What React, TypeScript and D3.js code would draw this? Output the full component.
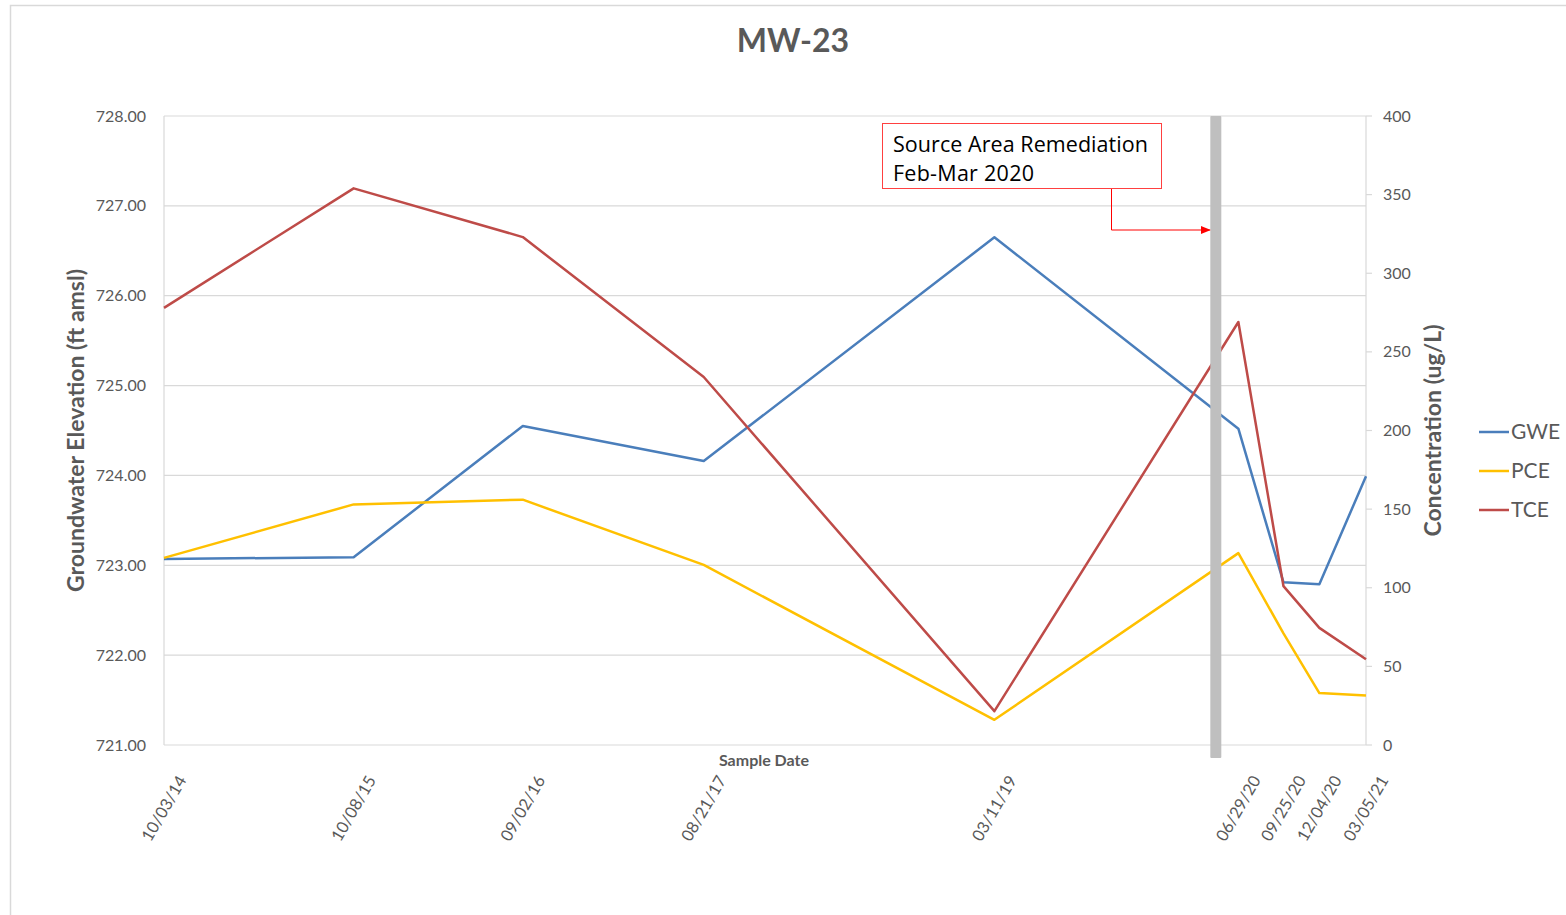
import React from 'react';
import * as d3 from 'd3';

// sample dates and readings
const sampleDates = ['2014-10-03', '2015-10-08', '2016-09-02', '2017-08-21', '2019-03-11', '2020-06-29', '2020-09-25', '2020-12-04', '2021-03-05'];
const dateLabels = ['10/03/14', '10/08/15', '09/02/16', '08/21/17', '03/11/19', '06/29/20', '09/25/20', '12/04/20', '03/05/21'];
const gweValues = [723.07, 723.09, 724.55, 724.16, 726.65, 724.52, 722.81, 722.79, 723.99];
const pceValues = [119, 153, 156, 114.5, 16, 122, 71, 33, 31.5];
const tceValues = [278, 354, 323, 234, 21.5, 269, 101, 74.5, 54.5];
const leftTicks = [721, 722, 723, 724, 725, 726, 727, 728];
const rightTicks = [0, 50, 100, 150, 200, 250, 300, 350, 400];
const remediationDate = '2020-05-16';

const W = 1566;
const H = 915;
const margin = { left: 164, right: 200, top: 116, bottom: 170 };
const FONT = 'Lato, "Open Sans", sans-serif';
const TXT = '#595959';
const GRID = '#D9D9D9';

const parse = d3.timeParse('%Y-%m-%d');
const dates = sampleDates.map(s => parse(s) as Date);

const series = [
  { name: 'GWE', color: '#4A7EBB', values: gweValues, axis: 'left' },
  { name: 'PCE', color: '#FFC000', values: pceValues, axis: 'right' },
  { name: 'TCE', color: '#BE4B48', values: tceValues, axis: 'right' },
];

export default function App() {
  const x0 = margin.left;
  const x1 = W - margin.right;
  const yTop = margin.top;
  const yBot = H - margin.bottom;

  const x = d3.scaleTime().domain([dates[0], dates[dates.length - 1]]).range([x0, x1]);
  const yL = d3.scaleLinear().domain([721, 728]).range([yBot, yTop]);
  const yR = d3.scaleLinear().domain([0, 400]).range([yBot, yTop]);

  const remX = x(parse(remediationDate) as Date);

  return (
    <svg width={W} height={H} style={{ position: 'absolute', left: 0, top: 0, background: '#fff' }} fontFamily={FONT}>
      <defs>
        <marker id="arrowHead" viewBox="0 0 10 10" refX="9" refY="5" markerWidth="10" markerHeight="10" orient="auto">
          <path d="M0,1 L10,5 L0,9 z" fill="#FF0000" />
        </marker>
      </defs>
      <rect x={10.5} y={5.5} width={W} height={H} fill="#fff" stroke={GRID} strokeWidth={1.5} />

      <text x={793} y={52} textAnchor="middle" fontSize={32} fontWeight="bold" fill={TXT}>MW-23</text>

      {/* gridlines */}
      {leftTicks.map(t => (
        <line key={t} x1={x0} x2={x1} y1={yL(t)} y2={yL(t)} stroke={GRID} strokeWidth={1.2} />
      ))}
      <line x1={x0} x2={x0} y1={yTop} y2={yBot} stroke={GRID} strokeWidth={1.2} />
      <line x1={x1} x2={x1} y1={yTop} y2={yBot} stroke={GRID} strokeWidth={1.2} />
      {rightTicks.map(t => (
        <line key={t} x1={x1} x2={x1 + 6} y1={yR(t)} y2={yR(t)} stroke={GRID} strokeWidth={1.2} />
      ))}

      {/* left tick labels */}
      {leftTicks.map(t => (
        <text key={t} x={146} y={yL(t)} dy="0.35em" textAnchor="end" fontSize={16} fill={TXT}>{t.toFixed(2)}</text>
      ))}
      {/* right tick labels */}
      {rightTicks.map(t => (
        <text key={t} x={1383} y={yR(t)} dy="0.35em" textAnchor="start" fontSize={16} fill={TXT}>{t}</text>
      ))}

      {/* x tick labels */}
      {dates.map((d, i) => (
        <text key={i} transform={`translate(${x(d) + 18},${yBot + 32}) rotate(-60)`} dy="0.35em" textAnchor="end" fontSize={16.5} fill={TXT}>
          {dateLabels[i]}
        </text>
      ))}

      <text x={764} y={766} textAnchor="middle" fontSize={16} fontWeight="bold" fill={TXT}>Sample Date</text>
      <text transform={`translate(84,${(yTop + yBot) / 2}) rotate(-90)`} textAnchor="middle" fontSize={23} fontWeight="bold" fill={TXT}>
        Groundwater Elevation (ft amsl)
      </text>
      <text transform={`translate(1441,${(yTop + yBot) / 2}) rotate(-90)`} textAnchor="middle" fontSize={23} fontWeight="bold" fill={TXT}>
        Concentration (ug/L)
      </text>

      {/* series */}
      {series.map(s => {
        const y = s.axis === 'left' ? yL : yR;
        const line = d3.line<number>().x((_, i) => x(dates[i])).y(v => y(v));
        return <path key={s.name} d={line(s.values) || ''} fill="none" stroke={s.color} strokeWidth={2.5} strokeLinejoin="round" />;
      })}

      {/* remediation marker */}
      <rect x={remX - 5.5} y={yTop} width={11} height={yBot - yTop + 13} fill="#BFBFBF" rx={1} />

      {/* annotation */}
      <rect x={882.5} y={123.5} width={279} height={65} fill="#fff" stroke="#FF0000" strokeOpacity={0.75} strokeWidth={1} />
      <text x={893} y={152} fontSize={21.5} fill="#000" fontFamily='"Open Sans", Lato, sans-serif' textLength={255}>Source Area Remediation</text>
      <text x={893} y={181} fontSize={21.5} fill="#000" fontFamily='"Open Sans", Lato, sans-serif' textLength={141}>Feb-Mar 2020</text>
      <path d={`M1111.5,189 V230 H${remX - 6}`} fill="none" stroke="#FF0000" strokeWidth={1} markerEnd="url(#arrowHead)" />

      {/* legend */}
      {series.map((s, i) => (
        <g key={s.name} transform={`translate(1479,${432 + i * 39})`}>
          <line x1={0} x2={30} y1={0} y2={0} stroke={s.color} strokeWidth={2.5} />
          <text x={32} y={0} dy="0.35em" fontSize={21} fill={TXT}>{s.name}</text>
        </g>
      ))}
    </svg>
  );
}
